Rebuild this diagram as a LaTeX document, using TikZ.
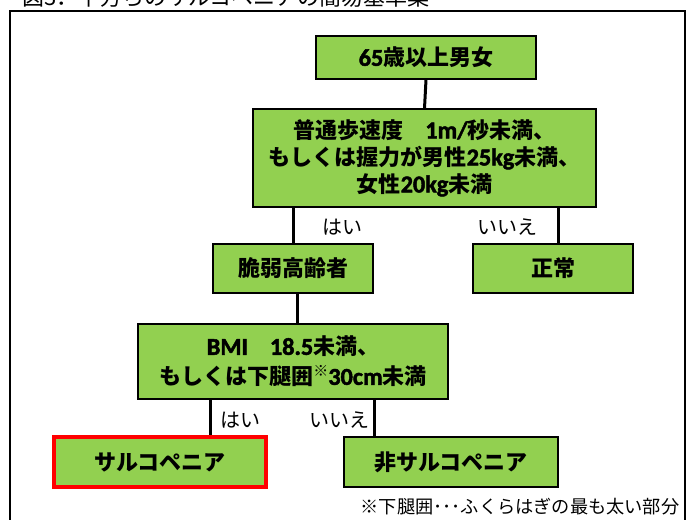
\documentclass[tikz,border=0pt]{standalone}
\usepackage{fontspec}
\setmainfont{Noto Sans CJK JP}
\newfontfamily\lat{Carlito}[Scale=1.1, FakeBold=2]
\definecolor{boxgreen}{HTML}{92D050}
\begin{document}
\begin{tikzpicture}[x=1pt,y=-1pt,
  box/.style={draw=black, line width=1.6pt, fill=boxgreen, inner sep=0pt, align=center,
    font=\bfseries\fontsize{22}{27}\selectfont},
  redbox/.style={box, draw=red, line width=4pt},
  conn/.style={line width=3pt},
  lab/.style={font=\fontsize{20}{24}\selectfont, inner sep=0pt}]
\useasboundingbox (0,0) rectangle (692,519);
% title (cut off at the top)
\node[anchor=base west, inner sep=0pt, font=\fontsize{22}{26}\selectfont] (title) at (22,5.5) {図3．下方らのサルコペニアの簡易基準案};
% frame
\draw[line width=1.8pt] (10,545) -- (10,11) -- (685,11) -- (685,545);
% boxes
\node[box, minimum width=220, minimum height=43] (n1) at (426,57.5) {{\lat 65}歳以上男女};
\node[box, minimum width=343, minimum height=98] (n2) at (424.5,158) {普通歩速度　{\lat 1m/}秒未満、\\もしくは握力が男性{\lat 25kg}未満、\\女性{\lat 20kg}未満};
\node[box, minimum width=160, minimum height=49] (n3) at (293,268.5) {脆弱高齢者};
\node[box, minimum width=160, minimum height=49] (n4) at (553,268.5) {正常};
\node[box, minimum width=310, minimum height=75, font=\bfseries\fontsize{22}{30}\selectfont] (n5) at (293,361.5) {{\lat BMI}　{\lat 18.5}未満、\\もしくは下腿囲\raisebox{0.4em}{\fontsize{15}{15}\selectfont ※}{\lat 30cm}未満};
\node[redbox, minimum width=212, minimum height=50] (n6) at (160,462) {サルコペニア};
\node[box, minimum width=214, minimum height=50] (n7) at (451,462) {非サルコペニア};
% connectors
\coordinate (c1) at (210,0);
\coordinate (c2) at (374,0);
\draw[conn] (n1.south) -- (n2.north);
\draw[conn] (n3.north) -- (n3.north |- n2.south);
\draw[conn] ([xshift=5pt]n4.north) -- ([xshift=5pt]n4.north |- n2.south);
\draw[conn] ([xshift=4pt]n5.north |- n3.south) -- ([xshift=4pt]n5.north);
\draw[conn] (n5.south -| c1) -- (n6.north -| c1);
\draw[conn] (n5.south -| c2) -- (n7.north -| c2);
% labels
\node[lab] (l1) at (342,227) {はい};
\node[lab] (l2) at (507,227) {いいえ};
\node[lab] (l3) at (240,420) {はい};
\node[lab] (l4) at (339,420) {いいえ};
\node[inner sep=0pt, font=\fontsize{18.2}{21}\selectfont] (note) at (520,507) {※下腿囲･･･ふくらはぎの最も太い部分};
\end{tikzpicture}
\end{document}
